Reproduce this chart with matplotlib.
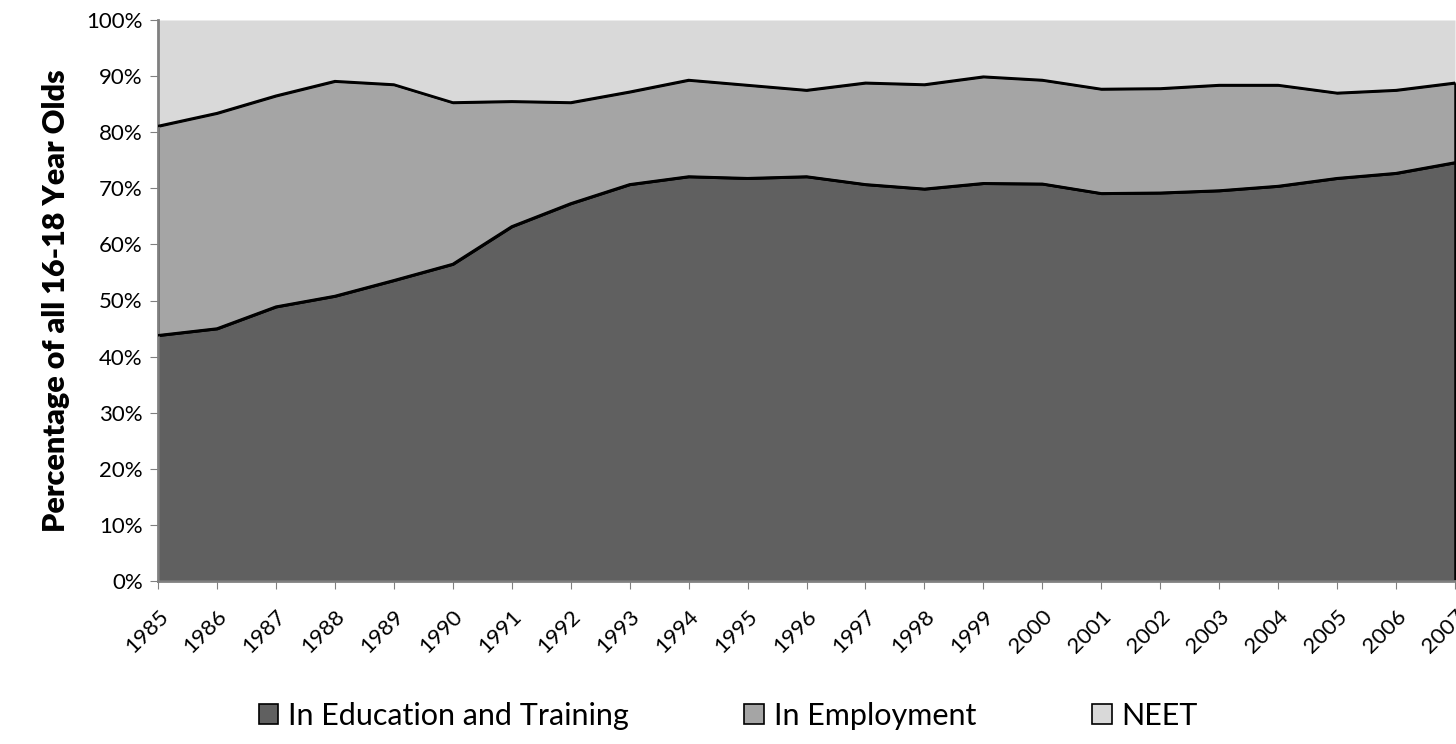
import matplotlib
matplotlib.use("Agg")
import matplotlib.pyplot as plt
import numpy as np
from matplotlib.patches import Patch

plt.rcParams['font.family'] = ['Lato', 'DejaVu Sans']

years = list(range(1985, 2008))
education = [43.8, 45.0, 48.9, 50.8, 53.6, 56.5, 63.2, 67.3, 70.7, 72.1, 71.8, 72.1,
             70.7, 69.9, 70.9, 70.8, 69.1, 69.2, 69.6, 70.4, 71.8, 72.7, 74.6]
top_line = [81.1, 83.4, 86.5, 89.1, 88.5, 85.3, 85.5, 85.3, 87.2, 89.3, 88.4, 87.5,
            88.8, 88.5, 89.9, 89.3, 87.7, 87.8, 88.4, 88.4, 87.0, 87.5, 88.8]
employment = [t - e for t, e in zip(top_line, education)]
neet = [100 - t for t in top_line]

series_names = ["In Education and Training", "In Employment", "NEET"]
colors = ["#606060", "#a5a5a5", "#d9d9d9"]

fig = plt.figure(figsize=(14.56, 7.44), dpi=100)
ax = fig.add_axes([158/1456, 1 - 581/744, (1455 - 158)/1456, (581 - 20)/744])

x = np.arange(len(years))
polys = ax.stackplot(x, education, employment, neet, colors=colors,
                     edgecolor='black', linewidth=1.8)
polys[2].set_linewidth(0)
ax.plot(x, top_line, color='black', lw=1.8, zorder=3)
ax.plot(x, education, color='black', lw=1.8, zorder=3)

ax.set_xlim(0, len(years) - 1)
ax.set_ylim(0, 100)
ax.set_yticks(np.arange(0, 101, 10))
ax.set_yticklabels([f"{v}%" for v in range(0, 101, 10)], fontsize=16)
ax.set_xticks(x)
ax.set_xticklabels([str(y) for y in years], rotation=45, ha='right',
                   rotation_mode='anchor', fontsize=16)
ax.tick_params(axis='x', length=6, color='#808080', pad=12)
ax.tick_params(axis='y', length=6, color='#808080', pad=5)
for s in ['top', 'right']:
    ax.spines[s].set_visible(False)
ax.spines['left'].set_color('#808080')
ax.spines['bottom'].set_color('#808080')
ax.spines['left'].set_linewidth(2)
ax.spines['bottom'].set_linewidth(2)

ax.set_ylabel("Percentage of all 16-18 Year Olds", fontsize=22, fontweight='heavy',
              labelpad=12)

handles = [Patch(facecolor=c, edgecolor='black', linewidth=1.2) for c in colors]
fig.legend(handles, series_names, loc='center', bbox_to_anchor=(0.5, 1 - 716/744),
           ncol=3, frameon=False, fontsize=22, handlelength=0.65, handleheight=0.65,
           handletextpad=0.3, columnspacing=3.8)

fig.savefig("out.png", dpi=100)
